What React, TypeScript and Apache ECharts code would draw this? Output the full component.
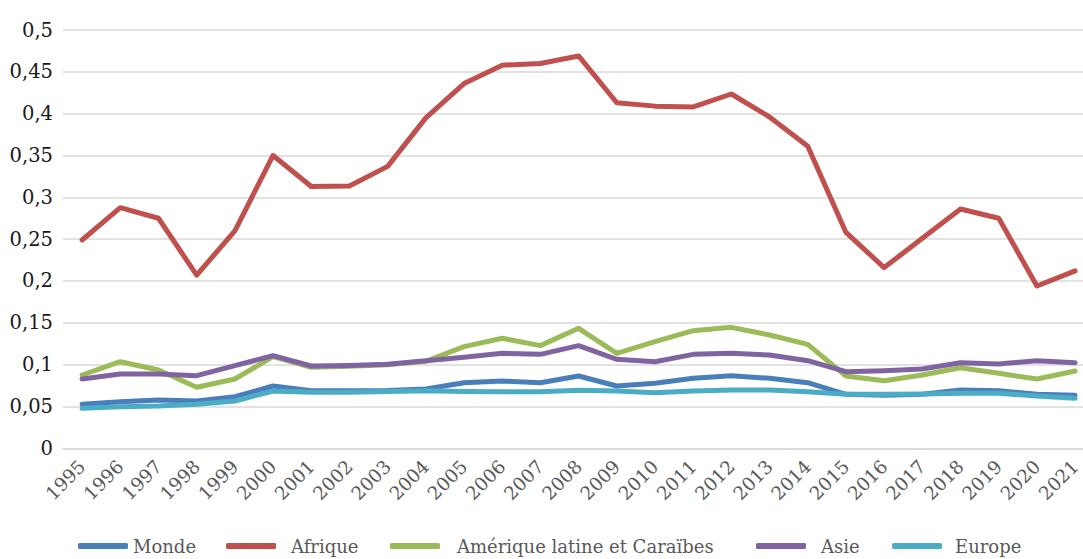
import React, { useEffect, useRef } from "react";
import * as echarts from "echarts";

const years = [
  "1995", "1996", "1997", "1998", "1999", "2000", "2001", "2002", "2003",
  "2004", "2005", "2006", "2007", "2008", "2009", "2010", "2011", "2012",
  "2013", "2014", "2015", "2016", "2017", "2018", "2019", "2020", "2021",
];

const monde = [
  0.0526, 0.0557, 0.0577, 0.0565, 0.0617, 0.0745, 0.0689, 0.0689, 0.069,
  0.0709, 0.0784, 0.0804, 0.0784, 0.0864, 0.0745, 0.0777, 0.0837, 0.0868,
  0.0837, 0.0784, 0.0645, 0.0634, 0.0645, 0.0697, 0.0689, 0.0645, 0.0634,
];

const afrique = [
  0.249, 0.2876, 0.275, 0.207, 0.26, 0.35, 0.313, 0.3135, 0.337,
  0.395, 0.436, 0.458, 0.46, 0.469, 0.413, 0.409, 0.408, 0.4235,
  0.396, 0.361, 0.258, 0.216, 0.251, 0.286, 0.275, 0.194, 0.212,
];

const ameriqueLatine = [
  0.0876, 0.1035, 0.0936, 0.0729, 0.0828, 0.1095, 0.0968, 0.098, 0.1,
  0.104, 0.1215, 0.1315, 0.1227, 0.1434, 0.1135, 0.1274, 0.1406, 0.1446,
  0.1354, 0.1243, 0.0864, 0.0808, 0.0876, 0.0963, 0.0896, 0.0828, 0.0924,
];

const asie = [
  0.0828, 0.0888, 0.0888, 0.0868, 0.0988, 0.1107, 0.0984, 0.099, 0.1004,
  0.1047, 0.1088, 0.1135, 0.1123, 0.1227, 0.1063, 0.1035, 0.1123, 0.1135,
  0.1115, 0.1047, 0.0916, 0.0928, 0.0948, 0.1023, 0.1008, 0.1047, 0.1023,
];

const europe = [
  0.0478, 0.0497, 0.0506, 0.0526, 0.0565, 0.0685, 0.0669, 0.0669, 0.068,
  0.0689, 0.068, 0.0677, 0.0677, 0.0693, 0.0685, 0.0665, 0.0685, 0.0697,
  0.0697, 0.0677, 0.0645, 0.0645, 0.0649, 0.0657, 0.0657, 0.0625, 0.0598,
];

const seriesNames = ["Monde", "Afrique", "Amérique latine et Caraïbes", "Asie", "Europe"];
const seriesValues = [monde, afrique, ameriqueLatine, asie, europe];
const seriesColors = ["#4A7EBB", "#C0504D", "#9BBB59", "#8064A2", "#4BACC6"];

// legend placement: left edge of each key and the gap before its label
const legendLeft = [78, 226, 390, 756, 892];
const legendTextPad = [0, 10, 12, 10, 8];

const FONT = "DejaVu Serif";

export default function App() {
  const ref = useRef<HTMLDivElement>(null);

  useEffect(() => {
    if (!ref.current) return;
    const chart = echarts.init(ref.current, undefined, { renderer: "svg" });

    chart.setOption({
      animation: false,
      backgroundColor: "#ffffff",
      textStyle: { fontFamily: FONT },
      grid: { left: 63, right: 5.8, top: 30, bottom: 110.7, containLabel: false },
      xAxis: {
        type: "category",
        data: years,
        boundaryGap: true,
        axisLine: { show: true, lineStyle: { color: "#d9d9d9", width: 1.5 } },
        axisTick: { show: false },
        axisLabel: {
          rotate: 45,
          margin: 15,
          interval: 0,
          color: "#595959",
          fontFamily: FONT,
          fontSize: 18.5,
        },
      },
      yAxis: {
        type: "value",
        min: 0,
        max: 0.5,
        interval: 0.05,
        axisLine: { show: false },
        axisTick: { show: false },
        splitLine: { lineStyle: { color: "#d9d9d9", width: 1.5 } },
        axisLabel: {
          margin: 10,
          color: "#1a1a1a",
          fontFamily: FONT,
          fontSize: 19.5,
          formatter: (v: number) => String(Math.round(v * 100) / 100).replace(".", ","),
        },
      },
      legend: seriesNames.map((name, i) => ({
        data: [name],
        left: legendLeft[i],
        top: 533,
        padding: 0,
        icon: "roundRect",
        itemWidth: 50,
        itemHeight: 6,
        selectedMode: false,
        textStyle: {
          color: "#595959",
          fontFamily: FONT,
          fontSize: 18,
          lineHeight: 26,
          padding: [0, 0, 0, legendTextPad[i]],
        },
      })),
      series: seriesNames.map((name, i) => ({
        name,
        type: "line",
        data: seriesValues[i],
        symbol: "none",
        color: seriesColors[i],
        lineStyle: { width: 5, color: seriesColors[i], cap: "round", join: "round" },
        z: 2 + i,
      })),
    });

    return () => chart.dispose();
  }, []);

  return (
    <div
      style={{
        position: "fixed",
        left: 0,
        top: 0,
        width: 1083,
        height: 559,
        overflow: "hidden",
        background: "#ffffff",
      }}
    >
      <div ref={ref} style={{ width: 1100, height: 559 }} />
    </div>
  );
}
